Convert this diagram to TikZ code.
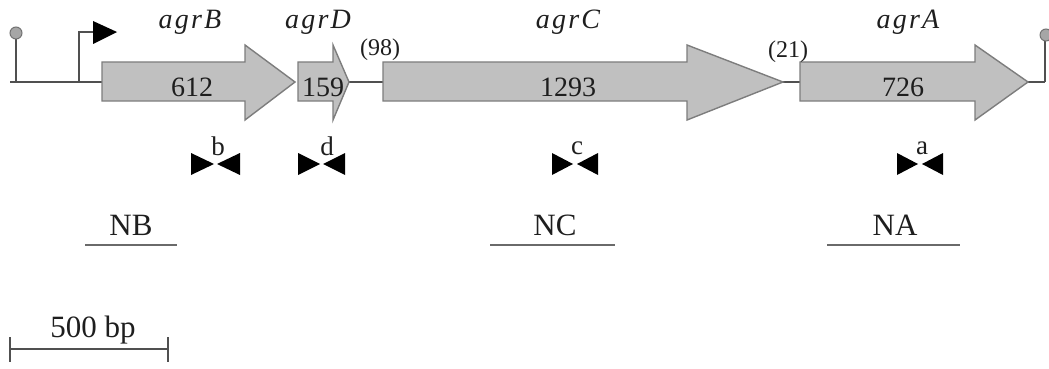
\documentclass[tikz,border=0pt]{standalone}
\usepackage{fontspec}
\setmainfont{Liberation Serif}
\definecolor{genefill}{RGB}{192,192,192}
\definecolor{genedraw}{RGB}{125,125,125}
\definecolor{linec}{RGB}{80,80,80}
\definecolor{txtc}{RGB}{30,30,30}
\newcommand\genearrow[4]{%
  \draw[genebox] (#2,62) -- (#3,62) -- (#3,45) -- (#4,82) -- (#3,120) -- (#3,101) -- (#2,101) -- cycle;
  \coordinate (#1s) at (#2,82);
  \coordinate (#1t) at (#4,82);
}
\newcommand\primerpair[5]{% name, left start, left tip, right tip, right start
  \fill[black] (#2,153) -- (#3,164) -- (#2,175) -- cycle;
  \fill[black] (#5,153) -- (#4,164) -- (#5,175) -- cycle;
  \coordinate (#1) at ({(#2+#5)/2},164);
}
\begin{document}
\begin{tikzpicture}[x=1pt,y=-1pt,
  genebox/.style={fill=genefill,draw=genedraw,line width=1.4pt,line join=miter},
  backbone/.style={draw=linec,line width=1.8pt},
  probe/.style={draw=linec!85,line width=1.8pt},
  genename/.style={font=\fontsize{28}{30}\selectfont\itshape\addfontfeature{LetterSpace=8},text=txtc,anchor=base,inner sep=0pt},
  genelen/.style={font=\fontsize{28}{30}\selectfont,text=txtc,anchor=base,inner sep=0pt},
  gaplen/.style={font=\fontsize{24}{26}\selectfont,text=txtc,anchor=base,inner sep=0pt},
  primer/.style={font=\fontsize{27}{28}\selectfont,text=txtc,anchor=base,inner sep=0pt},
  probelab/.style={font=\fontsize{31}{34}\selectfont,text=txtc,anchor=base,inner sep=0pt},
]
\useasboundingbox (0,0) rectangle (1049,369);
% terminators and promoter
\coordinate (ls) at (10,82);
\coordinate (lterm) at (16,82);
\coordinate (ltop) at (16,38);
\coordinate (prom) at (79,82);
\coordinate (promtop) at (79,32);
\coordinate (promend) at (95,32);
\coordinate (rterm) at (1045,82);
\coordinate (rtop) at (1045,40);
\draw[backbone] (ls) -- (lterm) -- (prom);
\draw[backbone] (lterm) -- (ltop);
\draw[backbone] (prom) -- (promtop) -- (promend);
\fill[black] (93,21) -- (117,32) -- (93,44) -- cycle;
\draw[backbone] (rterm) -- (rtop);
\filldraw[fill=gray!70,draw=gray!90!black,line width=1pt] (16,33) circle (6);
\filldraw[fill=gray!70,draw=gray!90!black,line width=1pt] (1046,35) circle (6);
% backbone between genes
\draw[backbone] (prom) -- (102,82);
\draw[backbone] (340,82) -- (383,82);
\draw[backbone] (780,82) -- (800,82);
\draw[backbone] (1025,82) -- (rterm);
% genes
\genearrow{B}{102}{245}{295}
\genearrow{D}{298}{333}{349}
\genearrow{C}{383}{687}{783}
\genearrow{A}{800}{975}{1028}
% gene names
\node[genename] (nB) at (190,29) {agrB};
\node[genename] (nD) at (318,29) {agrD};
\node[genename] (nC) at (568,29) {agrC};
\node[genename] (nA) at (908,29) {agrA};
% lengths
\node[genelen] (lB) at (192,96) {612};
\node[genelen] (lD) at (323,96) {159};
\node[genelen] (lC) at (568,96) {1293};
\node[genelen] (lA) at (903,96) {726};
\node[gaplen] (g98) at (380,56) {(98)};
\node[gaplen] (g21) at (788,57) {(21)};
% primer pairs
\primerpair{pb}{191}{214}{217}{240}
\primerpair{pd}{298}{320}{323}{345}
\primerpair{pc}{552}{573}{577}{598}
\primerpair{pa}{897}{918}{922}{943}
\node[primer] (tb) at (218,155) {b};
\node[primer] (td) at (327,155) {d};
\node[primer] (tc) at (577,154) {c};
\node[primer] (ta) at (922,154) {a};
% probes
\coordinate (NB1) at (85,245); \coordinate (NB2) at (177,245);
\coordinate (NC1) at (490,245); \coordinate (NC2) at (615,245);
\coordinate (NA1) at (827,245); \coordinate (NA2) at (960,245);
\draw[probe] (NB1) -- (NB2);
\draw[probe] (NC1) -- (NC2);
\draw[probe] (NA1) -- (NA2);
\node[probelab] (pNB) at (131,235) {NB};
\node[probelab] (pNC) at (555,235) {NC};
\node[probelab] (pNA) at (895,235) {NA};
% scale bar
\coordinate (s1) at (10,349); \coordinate (s2) at (168,349);
\draw[backbone] (s1) -- (s2);
\draw[backbone] (10,337) -- (10,362);
\draw[backbone] (168,337) -- (168,362);
\node[probelab] (sb) at (93,337) {500 bp};
\end{tikzpicture}
\end{document}
